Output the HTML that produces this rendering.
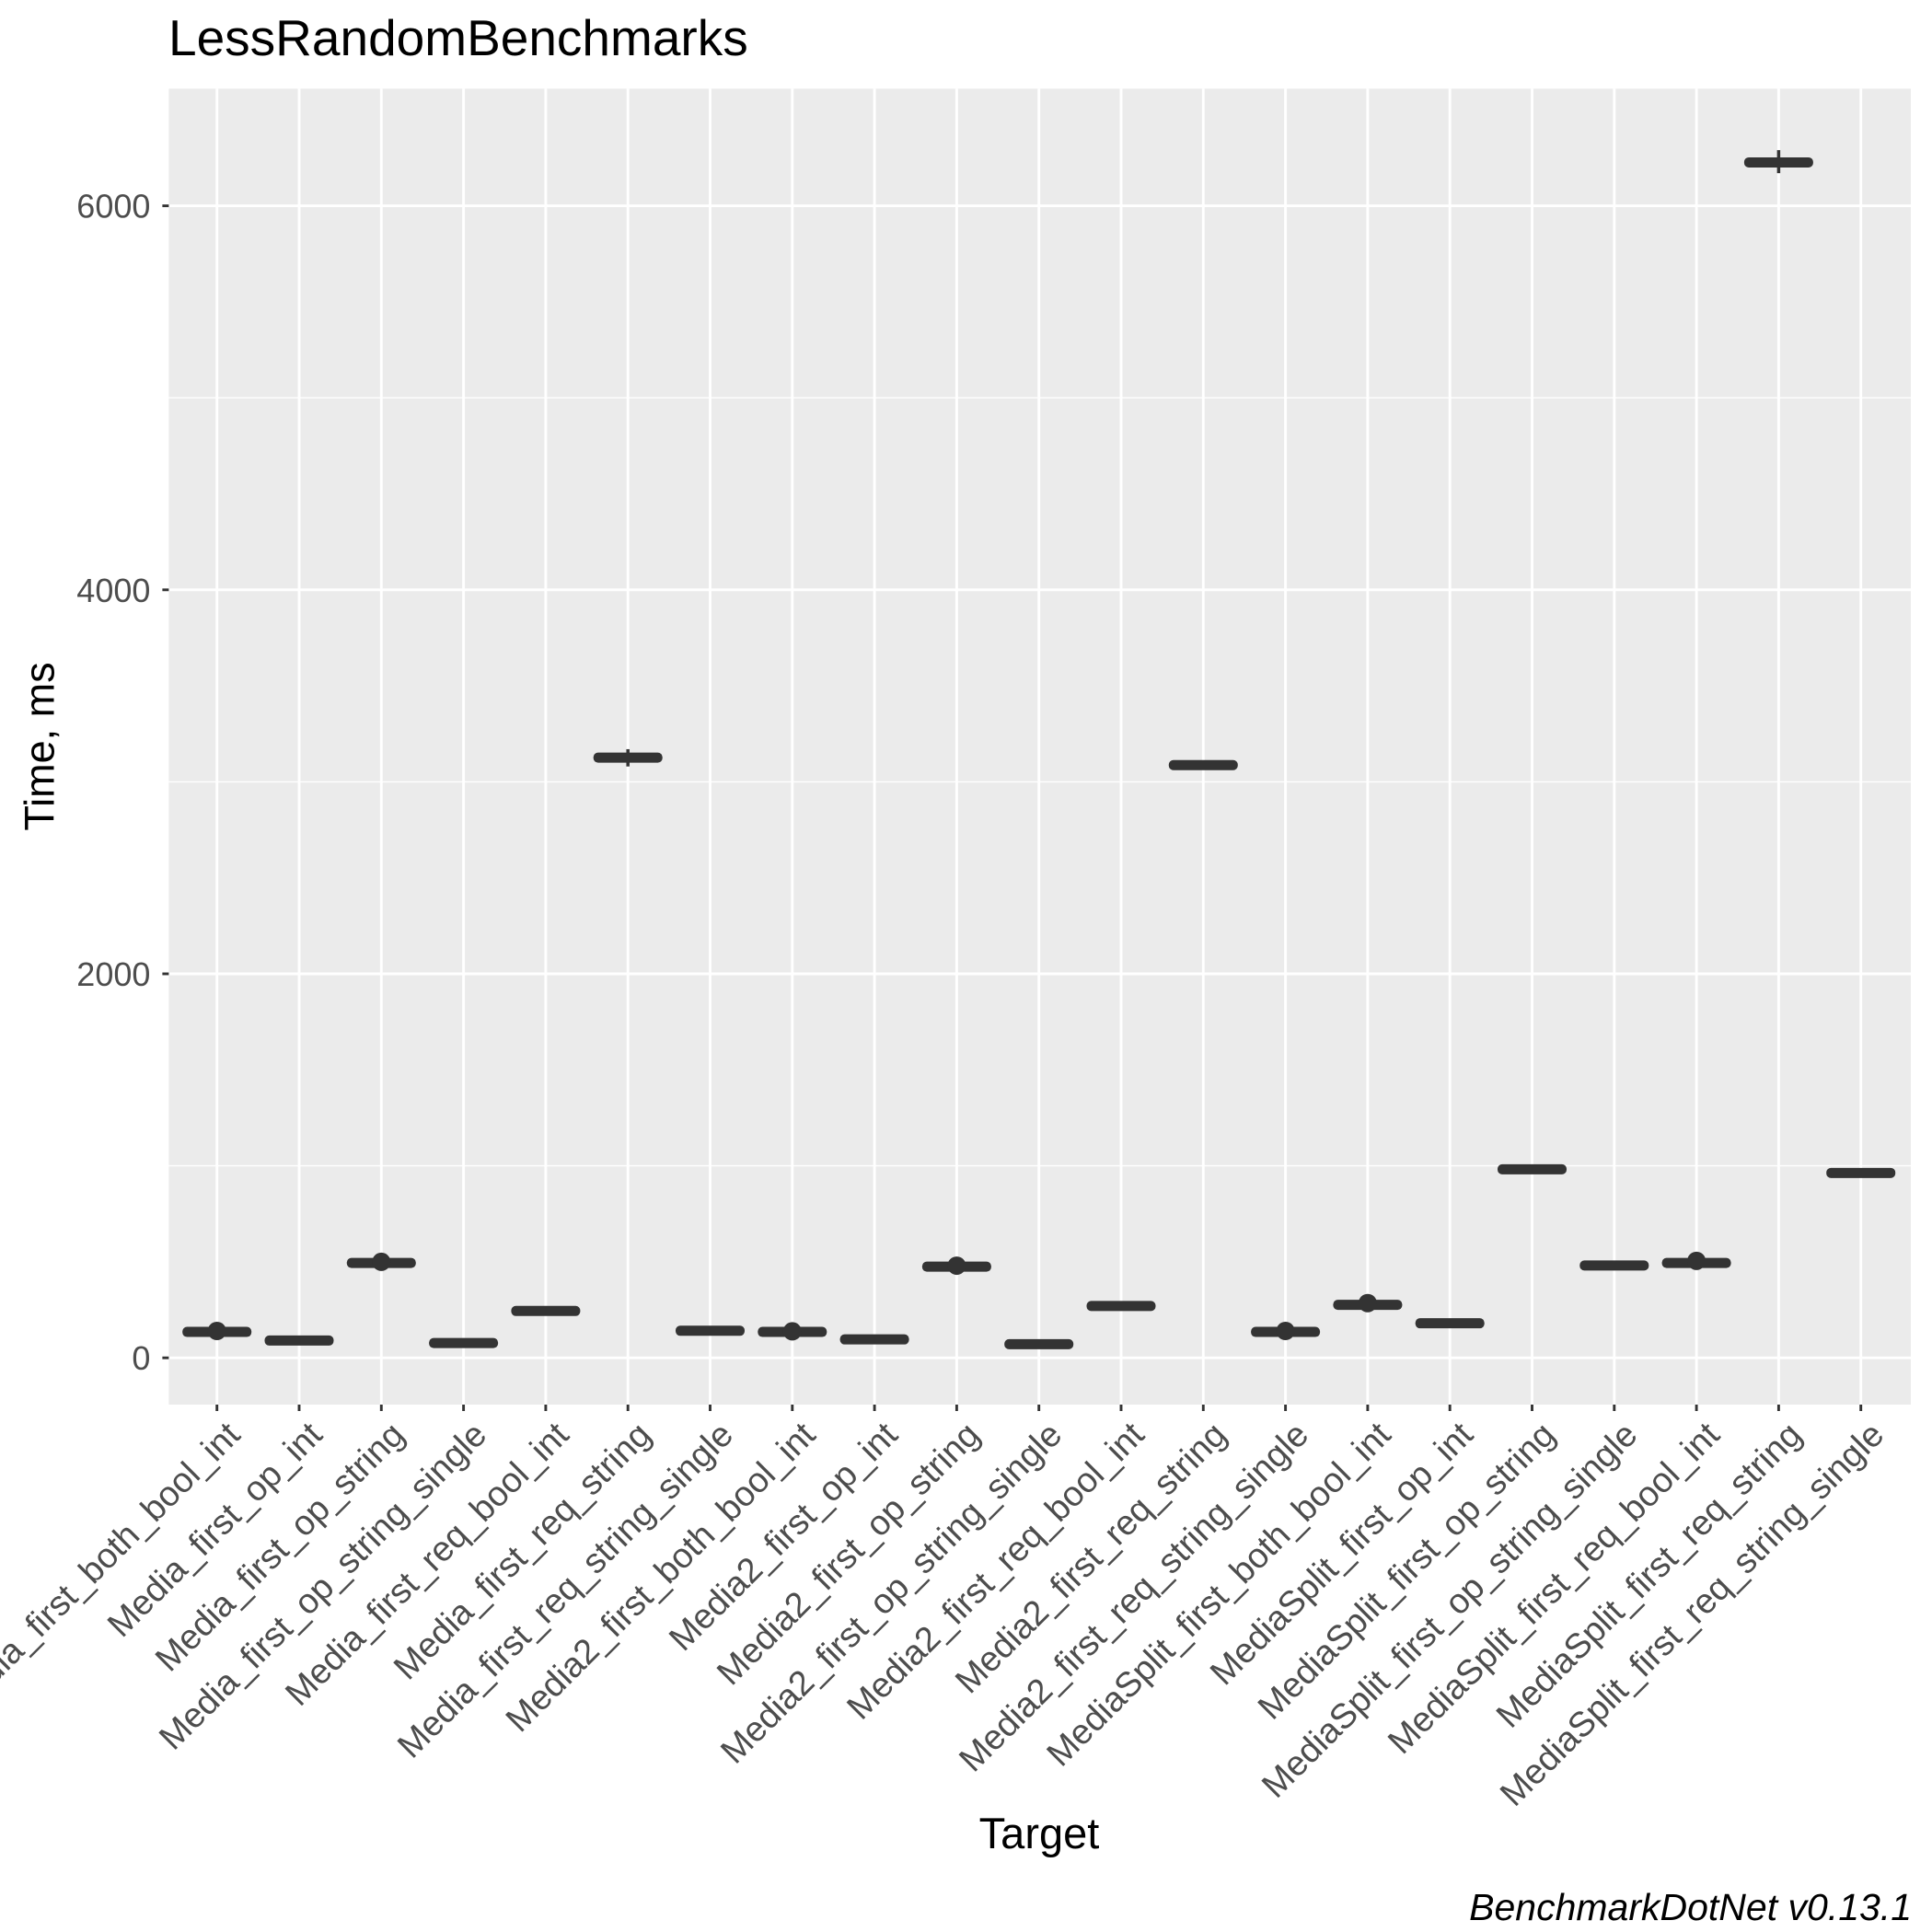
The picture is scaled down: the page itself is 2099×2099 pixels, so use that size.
<!DOCTYPE html>
<html><head><meta charset="utf-8"><style>body{margin:0;background:#fff}svg{display:block}</style></head>
<body>
<svg id="chart" width="2099" height="2099" viewBox="0 0 2099 2099" xmlns="http://www.w3.org/2000/svg" font-family="Liberation Sans, sans-serif"></svg>
<script>
const categories=["Media_first_both_bool_int","Media_first_op_int","Media_first_op_string","Media_first_op_string_single","Media_first_req_bool_int","Media_first_req_string","Media_first_req_string_single","Media2_first_both_bool_int","Media2_first_op_int","Media2_first_op_string","Media2_first_op_string_single","Media2_first_req_bool_int","Media2_first_req_string","Media2_first_req_string_single","MediaSplit_first_both_bool_int","MediaSplit_first_op_int","MediaSplit_first_op_string","MediaSplit_first_op_string_single","MediaSplit_first_req_bool_int","MediaSplit_first_req_string","MediaSplit_first_req_string_single"];
const medians=[135,90,494,77,244,3126,141,135,96,475,71,270,3087,135,276,180,982,481,494,6226,963];
const outliers=[140,null,500,null,null,null,null,138,null,480,null,null,null,140,285,null,null,null,505,null,null];
const whiskerLo=[null,null,null,null,null,3080,null,null,null,null,null,null,null,null,null,null,null,null,null,6170,null];
const whiskerHi=[null,null,null,null,null,3170,null,null,null,null,null,null,null,null,null,null,null,null,null,6290,null];
const yTicks=[0,2000,4000,6000];
const yMinor=[1000,3000,5000];

const svg=document.getElementById('chart');
const NS='http://www.w3.org/2000/svg';
const L=183.4,R=2076,T=96.4,B=1526;
const y=v=>1475.2-v*0.20860;
const x=i=>235.7+i*89.3;
function mk(tag,attrs,parent){const e=document.createElementNS(NS,tag);for(const k in attrs)e.setAttribute(k,attrs[k]);(parent||svg).appendChild(e);return e;}

const panel=mk('rect',{x:L,y:T,width:R-L,height:B-T,fill:'#ebebeb'});



yMinor.forEach(v=>{const g=mk('line',{x1:L,x2:R,y1:y(v),y2:y(v),stroke:'#fff','stroke-width':1.4});

});
yTicks.forEach(v=>{const g=mk('line',{x1:L,x2:R,y1:y(v),y2:y(v),stroke:'#fff','stroke-width':2.9});


const t=mk('line',{x1:L-7,x2:L,y1:y(v),y2:y(v),stroke:'#333','stroke-width':2.9});


const lb=mk('text',{x:L-20,y:y(v)+13,'text-anchor':'end','font-size':36,fill:'#4d4d4d'});
lb.textContent=v;

});

categories.forEach((c,i)=>{const cx=x(i);
const g=mk('line',{x1:cx,x2:cx,y1:T,y2:B,stroke:'#fff','stroke-width':2.9});


const t=mk('line',{x1:cx,x2:cx,y1:B,y2:B+7,stroke:'#333','stroke-width':2.9});


const lb=mk('text',{transform:`translate(${cx+8},${B+16}) rotate(-45)`,'text-anchor':'end','font-size':38,fill:'#4d4d4d',y:27});
lb.textContent=c;


if(whiskerLo[i]!=null){const w=mk('line',{x1:cx,x2:cx,y1:y(whiskerLo[i]),y2:y(whiskerHi[i]),stroke:'#333','stroke-width':3.5});

}
const b=mk('rect',{x:cx-37.5,y:y(medians[i])-5.5,width:75,height:11,rx:5,fill:'#333'});


if(outliers[i]!=null){const p=mk('circle',{cx:cx,cy:y(outliers[i]),r:10,fill:'#333'});

}
});
</script>
<div style="position:absolute;left:0;top:0;width:2099px;height:2099px;pointer-events:none;font-family:'Liberation Sans',sans-serif">
<div style="position:absolute;left:183px;top:14px;font-size:55px;line-height:1;color:#000">LessRandomBenchmarks</div>
<div style="position:absolute;left:43px;top:811px;font-size:45px;line-height:1;transform:translate(-50%,-50%) rotate(-90deg);white-space:nowrap">Time, ms</div>
<div style="position:absolute;left:1129px;top:1968px;font-size:47px;line-height:1;transform:translateX(-50%)">Target</div>
<div style="position:absolute;right:22px;top:2052px;font-size:41px;line-height:1;font-style:italic">BenchmarkDotNet v0.13.1</div>
</div>
</body></html>
